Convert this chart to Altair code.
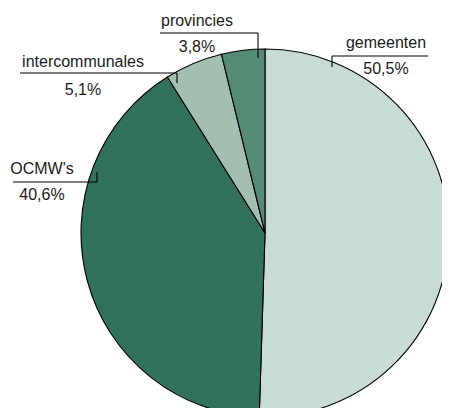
import altair as alt
import pandas as pd

# ---- data ----
categories = ["gemeenten", "OCMW's", "intercommunales", "provincies"]
values = [50.5, 40.6, 5.1, 3.8]
pct_labels = ["50,5%", "40,6%", "5,1%", "3,8%"]

# ---- styles ----
colors = ["#c9dcd4", "#33725a", "#a2bfb0", "#558a74"]
FONT = "Liberation Sans"
FS = 16

W, H = 434, 400
CX, CY, R = 257, 225, 184

df = pd.DataFrame({"cat": categories, "value": values, "idx": range(len(categories))})

# label layout (pixel positions of annotations)
label_layout = pd.DataFrame({
    "cat": categories,
    "pct": pct_labels,
    # leader tick (vertical)
    "tx": [324, 89, 169, 250],
    "ty1": [59, 164, 75, 50],
    "ty2": [48, 174, 65, 25],
    # horizontal line
    "hx1": [324, 5, 12, 152],
    "hx2": [420, 89, 169, 250],
    # texts
    "lx": [378, 34, 75, 189],
    "ny": [40, 166, 59, 18],
    "py": [66, 192, 87, 44],
})

pie = alt.Chart(df).mark_arc(stroke="black", strokeWidth=1.1, radius=R).encode(
    theta=alt.Theta("value:Q", stack=True),
    color=alt.Color("cat:N", scale=alt.Scale(domain=categories, range=colors), legend=None),
    order=alt.Order("idx:Q"),
    x=alt.value(CX),
    y=alt.value(CY),
)

base = alt.Chart(label_layout)
tick = base.mark_rule(color="black", strokeWidth=1.1).encode(
    x=alt.X("tx:Q", scale=None), y=alt.Y("ty1:Q", scale=None), y2="ty2:Q"
)
hline = base.mark_rule(color="black", strokeWidth=1.1).encode(
    x=alt.X("hx1:Q", scale=None), x2="hx2:Q", y=alt.Y("ty2:Q", scale=None)
)
names = base.mark_text(font=FONT, fontSize=FS, align="center", baseline="alphabetic", color="#1a1a1a").encode(
    x=alt.X("lx:Q", scale=None), y=alt.Y("ny:Q", scale=None), text="cat:N"
)
pcts = base.mark_text(font=FONT, fontSize=FS, align="center", baseline="alphabetic", color="#1a1a1a").encode(
    x=alt.X("lx:Q", scale=None), y=alt.Y("py:Q", scale=None), text="pct:N"
)

chart = alt.layer(pie, tick, hline, names, pcts).properties(
    width=W, height=H, padding=0, autosize=alt.AutoSizeParams(type="none")
).configure_view(stroke=None)

chart.save("out.html", embed_options={"renderer": "svg", "actions": False})
